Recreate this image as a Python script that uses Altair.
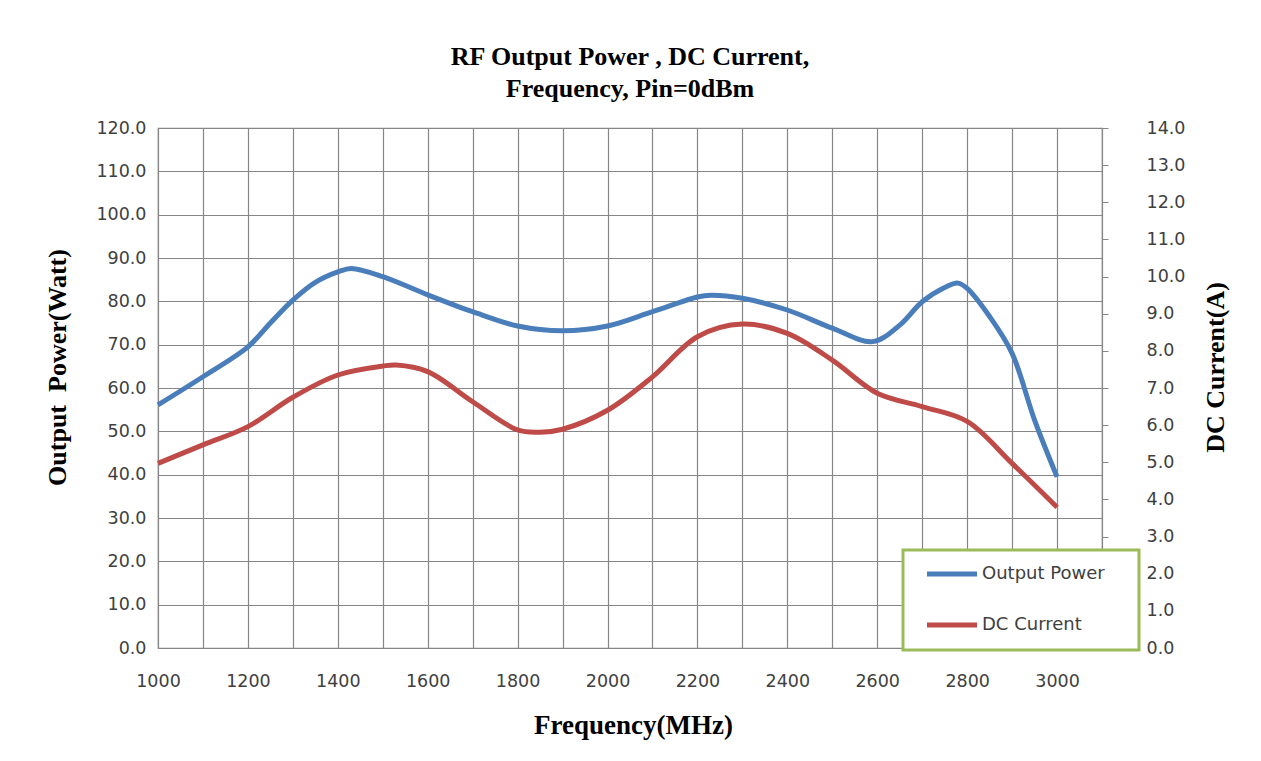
import altair as alt
import pandas as pd

# ---- data ----
freq_power = [1000, 1100, 1200, 1250, 1300, 1350, 1400, 1430, 1500, 1600, 1700, 1800, 1900,
              2000, 2100, 2200, 2230, 2300, 2400, 2500, 2590, 2650, 2700, 2750, 2780, 2800,
              2850, 2900, 2950, 3000]
power_watt = [56.1, 62.6, 69.5, 75.0, 80.3, 84.4, 86.8, 87.6, 85.7, 81.5, 77.6, 74.3, 73.2,
              74.3, 77.6, 81.0, 81.4, 80.7, 78.0, 73.8, 70.7, 74.5, 79.9, 83.2, 84.2, 83.0,
              76.5, 68.0, 52.6, 39.5]

freq_current = [1000, 1100, 1200, 1300, 1400, 1500, 1530, 1600, 1700, 1800, 1850, 1900,
                2000, 2100, 2200, 2300, 2400, 2500, 2600, 2700, 2800, 2900, 3000]
current_amp = [4.97, 5.47, 5.96, 6.75, 7.35, 7.59, 7.62, 7.44, 6.63, 5.87, 5.81, 5.89,
               6.40, 7.30, 8.38, 8.72, 8.47, 7.75, 6.86, 6.50, 6.10, 4.97, 3.79]

series_names = ["Output Power", "DC Current"]
series_colors = ["#4A7EBB", "#BE4B48"]

x_grid_values = list(range(1000, 3101, 100))
left_values = list(range(0, 121, 10))
right_values = list(range(0, 15, 1))

title_lines = ["RF Output Power , DC Current,", "Frequency, Pin=0dBm"]

df_p = pd.DataFrame({"freq": freq_power, "value": power_watt, "series": series_names[0]})
df_c = pd.DataFrame({"freq": freq_current, "value": current_amp, "series": series_names[1]})

SERIF = "Liberation Serif"
SANS = "DejaVu Sans"
GRID = "#868686"
LABEL = "#404040"

color = alt.Color(
    "series:N",
    scale=alt.Scale(domain=series_names, range=series_colors),
    legend=alt.Legend(
        title=None, orient="none", legendX=745, legendY=422,
        symbolType="M-1,0H9", symbolSize=100, symbolStrokeWidth=5, symbolOffset=5,
        labelFont=SANS, labelFontSize=18, labelColor=LABEL, labelOffset=41,
        labelExpr="datum.label + '\u00a0\u2800'",
        padding=15, rowPadding=31,
        strokeColor="#9BBB59", fillColor="white",
    ),
)

x = alt.X(
    "freq:Q",
    scale=alt.Scale(domain=[1000, 3100], nice=False, zero=False),
    axis=alt.Axis(
        values=x_grid_values, format="d",
        labelExpr="(datum.value % 200 == 0 && datum.value <= 3000) ? datum.label : ''",
        grid=True, gridColor=GRID, gridWidth=1.2, ticks=False, domain=False,
        labelFont=SANS, labelFontSize=17.5, labelColor=LABEL, labelPadding=24,
        labelFlush=False,
        title="Frequency(MHz)", titleFont=SERIF, titleFontSize=27, titleFontWeight="bold",
        titleColor="black", titleX=475, titleY=85, titleAlign="center",
        titleBaseline="alphabetic",
    ),
)

power = alt.Chart(df_p).mark_line(strokeWidth=5, interpolate="catmull-rom").encode(
    x=x,
    y=alt.Y(
        "value:Q",
        scale=alt.Scale(domain=[0, 120], nice=False),
        axis=alt.Axis(
            values=left_values, format=".1f", grid=True, gridColor=GRID, gridWidth=1.2,
            ticks=False, domain=False,
            labelFont=SANS, labelFontSize=17.5, labelColor=LABEL, labelPadding=12,
            title="Output\u00a0\u00a0Power(Watt)", titleFont=SERIF, titleFontSize=26,
            titleFontWeight="bold", titleColor="black", titleAngle=270,
            titleX=-101, titleY=239, titleAlign="center", titleBaseline="middle",
        ),
    ),
    color=color,
)

current = alt.Chart(df_c).mark_line(strokeWidth=5, interpolate="catmull-rom").encode(
    x=x,
    y=alt.Y(
        "value:Q",
        scale=alt.Scale(domain=[0, 14], nice=False),
        axis=alt.Axis(
            orient="right", values=right_values, format=".1f", grid=False,
            ticks=True, tickSize=6, tickColor=GRID, domain=True, domainColor=GRID,
            labelFont=SANS, labelFontSize=17.5, labelColor=LABEL, labelPadding=38,
            title="DC Current(A)", titleFont=SERIF, titleFontSize=26,
            titleFontWeight="bold", titleColor="black", titleAngle=270,
            titleX=113, titleY=239, titleAlign="center", titleBaseline="middle",
        ),
    ),
    color=color,
)

chart = (
    alt.layer(power, current)
    .resolve_scale(y="independent")
    .properties(
        width=944,
        height=520,
        padding={"left": 150, "top": 120, "right": 150, "bottom": 100},
        autosize=alt.AutoSizeParams(type="none"),
        title=alt.Title(
            title_lines, font=SERIF, fontSize=26, fontWeight="bold", color="black",
            anchor="middle", frame="group", lineHeight=32, offset=17,
        ),
        background="white",
    )
    .configure_view(stroke=GRID, strokeWidth=1.2)
    .configure_legend(strokeWidth=3)
)

chart.save("out.html", embed_options={"renderer": "svg", "actions": False})
